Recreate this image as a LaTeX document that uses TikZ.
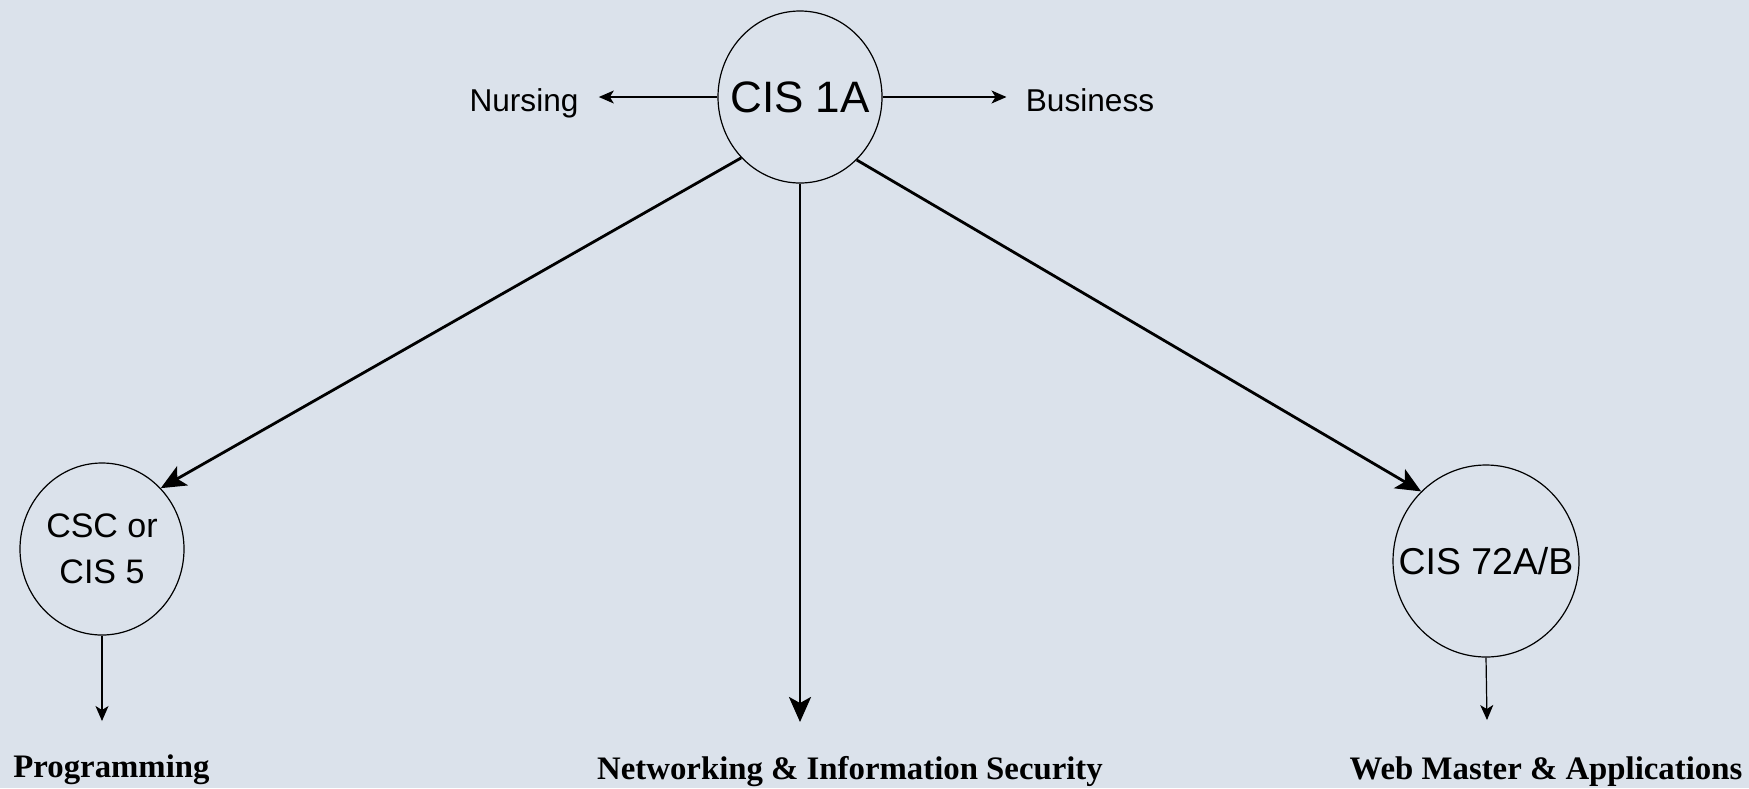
\documentclass[tikz,border=0pt]{standalone}
\usepackage{fontspec}
\setmainfont{Liberation Serif}
\setsansfont{Liberation Sans}
\usetikzlibrary{arrows.meta,shapes.geometric}
\definecolor{bgcol}{RGB}{219,226,235}

\begin{document}
\begin{tikzpicture}[x=0.5pt, y=-0.5pt,
    course/.style={draw, ellipse, inner sep=0pt, line width=0.6pt, font=\sffamily},
    bigarrow/.style={-{Stealth[length=12.5pt,width=11pt,inset=3pt]}, line width=1.4pt},
    smallarrow/.style={-{Stealth[length=7.5pt,width=6.5pt,inset=2pt]}, line width=0.6pt},
    side/.style={inner sep=0pt, anchor=base, font=\sffamily\fontsize{15.8}{18}\selectfont},
    track/.style={inner sep=0pt, font=\bfseries\fontsize{16.4}{19}\selectfont}]
            \fill[bgcol] (0,0) rectangle (1749,788);
            \useasboundingbox (0,0) rectangle (1749,788);

            \node[course, minimum width=82pt, minimum height=86pt, font=\sffamily\fontsize{22}{26}\selectfont] (cis1a) at (800,97) {\makebox[0pt]{CIS 1A}};
            \node[course, minimum width=82pt, minimum height=86pt, align=center, font=\sffamily\fontsize{17}{23}\selectfont] (csc) at (102,549) {\makebox[0pt]{CSC or}\\\makebox[0pt]{CIS 5}};
            \node[course, minimum width=93pt, minimum height=96pt, font=\sffamily\fontsize{18.7}{22}\selectfont] (cis72) at (1486,561) {\makebox[0pt]{CIS 72A/B}};

            \node[side] (nursing) at (524,111) {Nursing};
            \node[side] (business) at (1090,111) {Business};

            \node[track, anchor=base west] (prog) at (13,777) {Programming};
            \node[track, anchor=base] (net) at (850,779) {Networking \& Information Security};
            \node[track, anchor=base] (web) at (1546,779) {Web Master \& Applications};

            \coordinate (progend) at (102,721);
            \coordinate (netend) at (800,722);
            \coordinate (webend) at (1487,720);

            \draw[smallarrow, shorten >=10pt] (cis1a.west) -- (cis1a.west -| nursing.east);
            \draw[smallarrow, shorten >=9.5pt] (cis1a.east) -- (cis1a.east -| business.west);
            \draw[bigarrow] (cis1a.226) -- (csc.46);
            \draw[bigarrow] (cis1a.south) -- (netend);
            \draw[bigarrow] (cis1a.312) -- (cis72.133);
            \draw[smallarrow] (csc.south) -- (progend);
            \draw[smallarrow] (cis72.south) -- (webend);
        \end{tikzpicture}
\end{document}
